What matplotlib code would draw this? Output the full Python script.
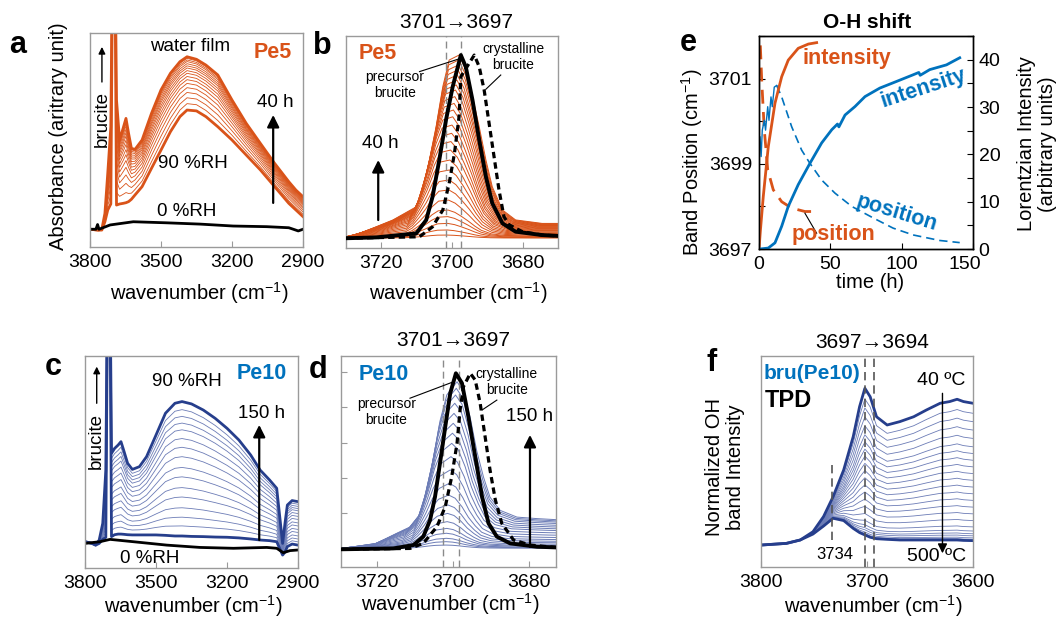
import numpy as np
import matplotlib
matplotlib.use("Agg")
import matplotlib.pyplot as plt
import matplotlib.transforms as mtrans

W, H = 1057, 621
ORANGE = "#D95319"
BLUE = "#0072BD"
NAVY = "#263E8C"
THIN = "#6C7CB6"
FRAME = "#9a9a9a"

plt.rcParams["font.family"] = ["Liberation Sans", "DejaVu Sans"]
plt.rcParams["mathtext.default"] = "regular"

# ---------------- panel a: Pe5 spectra, 0 -> 40 h ----------------
a_wn = [3800, 3765, 3750, 3737, 3725, 3712, 3703, 3696, 3688, 3675, 3660, 3648, 3637, 3625, 3610,
        3580, 3540, 3500, 3460, 3420, 3390, 3350, 3310, 3260, 3200, 3140, 3080, 3020, 2960, 2930, 2900]
a_first = [0.083, 0.079, 0.079, 0.118, 0.173, 0.201, 1.6, 1.6, 0.196, 0.201, 0.204, 0.207, 0.212, 0.223, 0.243,
           0.282, 0.368, 0.453, 0.539, 0.609, 0.640, 0.636, 0.609, 0.562, 0.500, 0.430, 0.360, 0.282, 0.204, 0.173, 0.142]
a_last = [0.083, 0.079, 0.083, 0.157, 0.344, 0.562, 1.6, 1.6, 0.687, 0.500, 0.555, 0.601, 0.531, 0.461, 0.456,
          0.500, 0.625, 0.734, 0.812, 0.866, 0.889, 0.877, 0.850, 0.804, 0.687, 0.578, 0.484, 0.391, 0.305, 0.266, 0.235]
a_steps = [0, 0.12, 0.23, 0.33, 0.42, 0.50, 0.57, 0.63, 0.69, 0.74, 0.79, 0.83, 0.87, 0.91, 0.94, 0.97, 1.0]
a_dry_wn = [3800, 3775, 3768, 3762, 3750, 3715, 3617, 3476, 3335, 3195, 3053, 2960, 2941, 2920, 2900]
a_dry = [0.083, 0.083, 0.105, 0.083, 0.088, 0.103, 0.118, 0.113, 0.107, 0.098, 0.095, 0.090, 0.083, 0.075, 0.083]

# ---------------- panel c: Pe10 spectra, 0 -> 150 h ----------------
c_wn = [3800, 3770, 3755, 3740, 3725, 3712, 3703, 3696, 3688, 3675, 3660, 3648, 3637, 3620, 3600, 3570, 3540,
        3500, 3460, 3420, 3390, 3350, 3300, 3250, 3200, 3150, 3100, 3060, 3020, 2990, 2965, 2955, 2945, 2925, 2900]
c_first = [0.124, 0.116, 0.108, 0.116, 0.135, 0.145, 1.6, 1.6, 0.148, 0.157, 0.160, 0.160, 0.159, 0.157, 0.156,
           0.156, 0.156, 0.156, 0.154, 0.151, 0.151, 0.149, 0.148, 0.146, 0.145, 0.142, 0.137, 0.132, 0.129,
           0.124, 0.061, 0.075, 0.101, 0.113, 0.108]
c_last = [0.124, 0.116, 0.108, 0.132, 0.211, 0.462, 1.6, 1.6, 0.541, 0.564, 0.580, 0.596, 0.557, 0.494, 0.465,
          0.478, 0.525, 0.627, 0.730, 0.777, 0.785, 0.774, 0.745, 0.706, 0.659, 0.604, 0.533, 0.462, 0.415,
          0.376, 0.116, 0.211, 0.297, 0.318, 0.313]
c_steps = [0, 0.075, 0.14, 0.21, 0.29, 0.36, 0.44, 0.51, 0.59, 0.66, 0.725, 0.79, 0.84, 0.89, 0.94, 1.0]
c_dry_wn = [3800, 3737, 3694, 3596, 3455, 3314, 3173, 3032, 2990, 2962, 2934, 2900]
c_dry = [0.116, 0.124, 0.135, 0.124, 0.108, 0.097, 0.093, 0.097, 0.093, 0.072, 0.082, 0.085]

# ---------------- panel b: Pe5 fitted OH band ----------------
b_base = 0.046
b_shape_off = [32, 28.1, 23.4, 18.7, 12.1, 10.3, 8.4, 6.5, 4.6, 2.8, 0, -1.9, -3.8, -5.7, -7.6, -9.4, -12.3, -16, -23.5, -32]
b_shape_rel = [0, 0.027, 0.063, 0.100, 0.172, 0.264, 0.427, 0.609, 0.828, 0.973, 1, 0.919, 0.773, 0.609, 0.427,
               0.281, 0.154, 0.100, 0.081, 0.081]
b_peak = [0.061, 0.085, 0.116, 0.148, 0.179, 0.226, 0.274, 0.321, 0.368, 0.415, 0.462, 0.502, 0.541, 0.580,
          0.619, 0.651, 0.682, 0.714, 0.745, 0.769, 0.792, 0.816, 0.840, 0.863, 0.887, 0.910]
b_center = [3701.3, 3701.3, 3701.2, 3701.2, 3701.1, 3701.0, 3700.9, 3700.8, 3700.7, 3700.6, 3700.4, 3700.3,
            3700.1, 3700.0, 3699.8, 3699.6, 3699.4, 3699.2, 3699.0, 3698.8, 3698.6, 3698.5, 3698.3, 3698.2,
            3698.1, 3698.0]
b_pre_wn = [3730, 3721.4, 3710.1, 3707.3, 3705.5, 3703.6, 3701.7, 3699.8, 3697.5, 3696.1, 3694.2, 3692.3,
            3690.4, 3688.6, 3685.7, 3682.0, 3674.5, 3670]
b_pre = [0.046, 0.050, 0.069, 0.132, 0.242, 0.415, 0.604, 0.761, 0.910, 0.855, 0.698, 0.509, 0.336, 0.211,
         0.116, 0.077, 0.061, 0.057]
b_cry_wn = [3730, 3709.2, 3705.5, 3702.6, 3700.8, 3699.3, 3698.0, 3697.5, 3693.7, 3692.3, 3690.9, 3689.5,
            3688.1, 3686.7, 3685.3, 3683.9, 3680.1, 3674.5, 3670]
b_cry = [0.046, 0.053, 0.100, 0.179, 0.305, 0.447, 0.619, 0.808, 0.910, 0.855, 0.745, 0.588, 0.431, 0.274,
         0.148, 0.110, 0.077, 0.061, 0.057]

# ---------------- panel d: Pe10 fitted OH band ----------------
d_base = 0.086
d_shape_off = [32, 28.2, 21.2, 15.9, 12.4, 9.7, 8.0, 6.2, 4.5, 2.7, 0, -1.7, -3.5, -5.2, -7.0, -8.7, -11.4, -15.8, -21.1, -25.9, -32]
d_shape_rel = [0, 0.009, 0.033, 0.093, 0.131, 0.210, 0.349, 0.546, 0.764, 0.921, 1, 0.941, 0.783, 0.586, 0.428,
               0.309, 0.230, 0.190, 0.181, 0.175, 0.170]
d_peak = [0.104, 0.120, 0.136, 0.160, 0.183, 0.215, 0.254, 0.294, 0.341, 0.397, 0.460, 0.523, 0.586, 0.634,
          0.681, 0.728, 0.776, 0.815, 0.847, 0.878]
d_center = [3701.8, 3701.8, 3701.7, 3701.7, 3701.6, 3701.5, 3701.4, 3701.3, 3701.1, 3700.9, 3700.7, 3700.5,
            3700.3, 3700.1, 3699.9, 3699.7, 3699.5, 3699.3, 3699.1, 3698.9]
d_pre_wn = [3729.3, 3715.7, 3710.4, 3707.8, 3706.0, 3704.7, 3703.4, 3702.0, 3700.7, 3699.2, 3697.6, 3695.9,
            3694.1, 3692.3, 3690.6, 3688.4, 3684.9, 3677.8, 3673]
d_pre = [0.084, 0.088, 0.104, 0.144, 0.223, 0.333, 0.491, 0.665, 0.823, 0.918, 0.871, 0.712, 0.523, 0.333,
         0.207, 0.144, 0.112, 0.096, 0.093]
d_cry_wn = [3729.3, 3711.3, 3707.8, 3704.2, 3702.0, 3700.3, 3698.9, 3698.1, 3697.2, 3695.4, 3694.1, 3692.8,
            3691.5, 3690.2, 3688.8, 3687.1, 3684.0, 3679.6, 3673]
d_cry = [0.084, 0.088, 0.112, 0.191, 0.286, 0.428, 0.586, 0.744, 0.855, 0.918, 0.886, 0.776, 0.618, 0.460,
         0.318, 0.207, 0.128, 0.104, 0.093]

# ---------------- panel e: band position / intensity vs time ----------------
e_or_int_t = [0, 1, 3, 6.5, 11.2, 15.9, 20.5, 27.5, 34.6, 40.4]
e_or_int = [0, 4, 11.1, 21.6, 30.8, 36.4, 39.9, 42.4, 43.3, 43.6]
e_or_pos_t = [0, 0.7, 1.9, 3.7, 6.1, 10, 15.9, 22.9, 32.2, 40.4]
e_or_pos = [3702.3, 3701.97, 3700.96, 3699.8, 3698.86, 3698.39, 3698.11, 3697.96, 3697.88, 3697.88]
e_bl_pos0_t = [0.7, 1.5, 2.3, 3.7, 4.6, 6.1, 7.0, 8.4, 9.3, 10.7, 12.4]
e_bl_pos0 = [3699.63, 3699.17, 3699.79, 3700.02, 3699.79, 3700.34, 3700.02, 3700.57, 3700.34, 3700.80, 3700.84]
e_bl_pos_t = [12.4, 15.9, 22.9, 29.9, 35.7, 43.9, 53.3, 65, 80, 94, 108, 126.7, 140.7]
e_bl_pos = [3700.84, 3700.57, 3699.87, 3699.32, 3699.01, 3698.62, 3698.31, 3698.0, 3697.73, 3697.49,
            3697.33, 3697.20, 3697.15]
e_bl_int_t = [0.7, 6.5, 11.2, 15.9, 20.5, 27.5, 35.7, 43.9, 51.0, 55, 56, 60.3, 67.3, 74.3, 84.7, 96.4,
              108, 112, 113, 119.7, 131.4, 140.7]
e_bl_int = [0, 0.2, 1.3, 4.8, 9.0, 13.6, 18.1, 22.4, 25.2, 26.4, 25.8, 28.3, 30.1, 32.2, 34.0, 35.4,
            36.8, 37.3, 36.7, 37.9, 38.9, 40.4]

# ---------------- panel f: TPD of Pe10 brucite ----------------
f_wn = [3800, 3776, 3763, 3751, 3741, 3732, 3722, 3713, 3707, 3702, 3697, 3691, 3681, 3669, 3656, 3644,
        3631, 3622, 3615, 3609, 3600]
f_40C = [0.104, 0.112, 0.128, 0.167, 0.239, 0.333, 0.460, 0.618, 0.760, 0.847, 0.807, 0.712, 0.673, 0.689,
         0.712, 0.744, 0.776, 0.784, 0.795, 0.784, 0.776]
f_500C = [0.104, 0.112, 0.128, 0.156, 0.194, 0.231, 0.220, 0.183, 0.163, 0.152, 0.141, 0.134, 0.131, 0.128,
          0.128, 0.128, 0.128, 0.128, 0.128, 0.126, 0.125]
f_steps = [0, 0.01, 0.02, 0.035, 0.05, 0.07, 0.1, 0.146, 0.195, 0.244, 0.293, 0.341, 0.39, 0.439, 0.488,
           0.537, 0.585, 0.634, 0.683, 0.744, 0.805, 0.866, 0.927, 1.0]


def box(x0, y0, x1, y1):
    return [x0 / W, 1 - y1 / H, (x1 - x0) / W, (y1 - y0) / H]


def ftext(x, y, s, **kw):
    kw.setdefault("ha", "center")
    kw.setdefault("va", "center")
    fig.text(x / W, 1 - y / H, s, **kw)


def style(ax, color=FRAME, pad=5):
    for sp in ax.spines.values():
        sp.set_color(color)
        sp.set_linewidth(1)
    ax.tick_params(direction="in", length=4, width=0.8, color=color, labelsize=14, pad=pad)


def up_arrow(ax, x, y0, y1, lw=1.6, ms=18):
    ax.annotate("", xy=(x, y1), xytext=(x, y0), xycoords="axes fraction",
                arrowprops=dict(arrowstyle="-|>", color="k", lw=lw, mutation_scale=ms,
                                shrinkA=0, shrinkB=0))


def family(ax, wn, first, last, steps, thick, thin):
    first = np.array(first)
    last = np.array(last)
    for s in steps[1:-1]:
        ax.plot(wn, first + s * (last - first), color=thin, lw=0.6)
    ax.plot(wn, first, color=thick, lw=2)
    ax.plot(wn, last, color=thick, lw=2)


def bands(ax, centers, peaks, base, off, rel, color, lw):
    off = np.array(off)
    rel = np.array(rel)
    for c, p in zip(centers, peaks):
        ax.plot(c + off, base + (p - base) * rel, color=color, lw=lw)


fig = plt.figure(figsize=(W / 100, H / 100), dpi=100)
WN = "wavenumber (cm$^{-1}$)"

# ---- a ----
ax = fig.add_axes(box(90, 33, 303, 247))
family(ax, a_wn, a_first, a_last, a_steps, ORANGE, ORANGE)
ax.plot(a_dry_wn, a_dry, color="k", lw=2)
ax.set_xlim(3800, 2900)
ax.set_ylim(0, 1)
ax.set_xticks([3800, 3500, 3200, 2900])
ax.set_yticks([])
style(ax)
ax.text(0.469, 0.936, "water film", transform=ax.transAxes, ha="center", va="center", fontsize=13.5)
ax.text(0.859, 0.907, "Pe5", transform=ax.transAxes, ha="center", va="center", fontsize=15.5,
        fontweight="bold", color=ORANGE)
ax.text(0.869, 0.673, "40 h", transform=ax.transAxes, ha="center", va="center", fontsize=13.5)
up_arrow(ax, 0.86, 0.206, 0.617)
ax.text(0.484, 0.391, "90 %RH", transform=ax.transAxes, ha="center", va="center", fontsize=13.5)
ax.text(0.455, 0.165, "0 %RH", transform=ax.transAxes, ha="center", va="center", fontsize=13.5)
ax.text(0.056, 0.60, "brucite", transform=ax.transAxes, ha="center", va="center", fontsize=13.5, rotation=90)
up_arrow(ax, 0.056, 0.771, 0.935, lw=1, ms=10)
ftext(199, 293, WN, fontsize=14.5)
ftext(58, 136, "Absorbance (aritrary unit)", fontsize=14.5, rotation=90)
ftext(18, 45, "a", fontsize=22, fontweight="bold")

# ---- b ----
ax = fig.add_axes(box(346, 36, 558, 248))
bands(ax, b_center, b_peak, b_base, b_shape_off, b_shape_rel, ORANGE, 0.7)
for x in (3701.7, 3697.5):
    ax.axvline(x, color="#8a8a8a", lw=1, dashes=(5, 3), zorder=3)
ax.plot(b_cry_wn, b_cry, color="k", lw=2.3, dashes=(2, 1.3), zorder=4)
ax.plot(b_pre_wn, b_pre, color="k", lw=2.8, zorder=5)
ax.plot([3709.2, 3698.4], [0.832, 0.890], color="k", lw=0.8, zorder=6)
ax.plot([3686.2, 3690.4], [0.816, 0.749], color="k", lw=0.8, zorder=6)
ax.set_xlim(3730, 3670)
ax.set_ylim(0, 1)
ax.set_xticks([3720, 3700, 3680])
ax.set_yticks([])
style(ax)
ax.text(0.152, 0.918, "Pe5", transform=ax.transAxes, ha="center", va="center", fontsize=15.5,
        fontweight="bold", color=ORANGE)
ax.text(0.231, 0.769, "precursor\nbrucite", transform=ax.transAxes, ha="center", va="center",
        fontsize=10, linespacing=1.2)
ax.text(0.789, 0.902, "crystalline\nbrucite", transform=ax.transAxes, ha="center", va="center",
        fontsize=10, linespacing=1.2)
ax.text(0.160, 0.494, "40 h", transform=ax.transAxes, ha="center", va="center", fontsize=13.5)
up_arrow(ax, 0.152, 0.132, 0.415)
ftext(458, 293, WN, fontsize=14.5)
ftext(456, 22, "3701\u21923697", fontsize=15)
ftext(322, 46, "b", fontsize=22, fontweight="bold")

# ---- c ----
ax = fig.add_axes(box(85, 356, 298, 568))
family(ax, c_wn, c_first, c_last, c_steps, NAVY, THIN)
ax.plot(c_dry_wn, c_dry, color="k", lw=2)
ax.set_xlim(3800, 2900)
ax.set_ylim(0, 1)
ax.set_xticks([3800, 3500, 3200, 2900])
ax.set_yticks([])
style(ax)
ax.text(0.829, 0.918, "Pe10", transform=ax.transAxes, ha="center", va="center", fontsize=15.5,
        fontweight="bold", color=BLUE)
ax.text(0.477, 0.879, "90 %RH", transform=ax.transAxes, ha="center", va="center", fontsize=13.5)
ax.text(0.829, 0.730, "150 h", transform=ax.transAxes, ha="center", va="center", fontsize=13.5)
up_arrow(ax, 0.818, 0.132, 0.675)
ax.text(0.305, 0.046, "0 %RH", transform=ax.transAxes, ha="center", va="center", fontsize=13.5)
ax.text(0.055, 0.60, "brucite", transform=ax.transAxes, ha="center", va="center", fontsize=13.5, rotation=90)
up_arrow(ax, 0.055, 0.777, 0.95, lw=1, ms=10)
ftext(193, 606, WN, fontsize=14.5)
ftext(53, 367, "c", fontsize=22, fontweight="bold")

# ---- d ----
ax = fig.add_axes(box(341, 356, 556, 567))
bands(ax, d_center, d_peak, d_base, d_shape_off, d_shape_rel, THIN, 0.7)
for x in (3702.5, 3698.5):
    ax.axvline(x, color="#8a8a8a", lw=1, dashes=(5, 3), zorder=3)
ax.plot(d_cry_wn, d_cry, color="k", lw=2.3, dashes=(2, 1.3), zorder=4)
ax.plot(d_pre_wn, d_pre, color="k", lw=2.8, zorder=5)
ax.plot([3711.3, 3699.8], [0.800, 0.878], color="k", lw=0.8, zorder=6)
ax.plot([3688.4, 3692.3], [0.791, 0.744], color="k", lw=0.8, zorder=6)
ax.set_xlim(3729.5, 3672.8)
ax.set_ylim(0, 1)
ax.set_xticks([3720, 3700, 3680])
ax.set_yticks([0.254, 0.42, 0.59, 0.76, 0.926])
ax.set_yticklabels([])
style(ax)
ax.text(0.197, 0.91, "Pe10", transform=ax.transAxes, ha="center", va="center", fontsize=15.5,
        fontweight="bold", color=BLUE)
ax.text(0.212, 0.736, "precursor\nbrucite", transform=ax.transAxes, ha="center", va="center",
        fontsize=10, linespacing=1.2)
ax.text(0.771, 0.878, "crystalline\nbrucite", transform=ax.transAxes, ha="center", va="center",
        fontsize=10, linespacing=1.2)
ax.text(0.879, 0.712, "150 h", transform=ax.transAxes, ha="center", va="center", fontsize=13.5)
up_arrow(ax, 0.879, 0.096, 0.626)
ftext(450, 604, WN, fontsize=14.5)
ftext(453, 340, "3701\u21923697", fontsize=15)
ftext(318, 370, "d", fontsize=22, fontweight="bold")

# ---- e ----
ax = fig.add_axes(box(759, 36, 973, 249))
ax2 = ax.twinx()
ax.plot(e_or_pos_t, e_or_pos, color=ORANGE, lw=2, dashes=(5, 3))
ax.plot(e_bl_pos0_t, e_bl_pos0, color=BLUE, lw=1)
ax.plot(e_bl_pos_t, e_bl_pos, color=BLUE, lw=1.2, dashes=(5, 3))
ax.plot([32.2, 40.4], [3697.84, 3697.37], color="k", lw=0.8)
ax2.plot(e_or_int_t, e_or_int, color=ORANGE, lw=2)
ax2.plot(e_bl_int_t, e_bl_int, color=BLUE, lw=2)
ax.set_xlim(0, 150)
ax.set_ylim(3697, 3702)
ax2.set_ylim(0, 45)
ax.set_xticks([0, 50, 100, 150])
ax.set_yticks([3697, 3698, 3699, 3700, 3701, 3702])
ax.set_yticklabels(["3697", "", "3699", "", "3701", ""])
ax2.set_yticks([0, 5, 10, 15, 20, 25, 30, 35, 40, 45])
ax2.set_yticklabels(["0", "", "10", "", "20", "", "30", "", "40", ""])
for a_ in (ax, ax2):
    for sp in a_.spines.values():
        sp.set_color("k")
        sp.set_linewidth(1)
ax.tick_params(direction="in", length=4, width=0.8, labelsize=14, pad=5)
ax.tick_params(axis="x", pad=5)
ax2.tick_params(direction="in", length=4, width=0.8, labelsize=14, pad=4)
last = ax.get_xticklabels()[-1]
last.set_transform(last.get_transform() + mtrans.ScaledTranslation(-6 / 72, 0, fig.dpi_scale_trans))
ax2.text(61.5, 40.3, "intensity", ha="center", va="center", fontsize=15.5, fontweight="bold", color=ORANGE)
ax2.text(115.2, 34.0, "intensity", ha="center", va="center", fontsize=15.5, fontweight="bold",
         color=BLUE, rotation=18)
ax.text(96.5, 3697.84, "position", ha="center", va="center", fontsize=15.5, fontweight="bold",
        color=BLUE, rotation=-17)
ax.text(52.1, 3697.33, "position", ha="center", va="center", fontsize=15.5, fontweight="bold", color=ORANGE)
ftext(867, 22, "O-H shift", fontsize=15, fontweight="bold")
ftext(870, 282, "time (h)", fontsize=14.5)
ftext(692, 162, "Band Position (cm$^{-1}$)", fontsize=14.5, rotation=90)
ftext(1037, 144, "Lorentzian Intensity\n(arbitrary units)", fontsize=14.5, rotation=90,
      multialignment="center", linespacing=1.1)
ftext(688, 43, "e", fontsize=22, fontweight="bold")

# ---- f ----
ax = fig.add_axes(box(761, 356, 973, 567))
family(ax, f_wn, f_500C, f_40C, f_steps, NAVY, THIN)
for x in (3702, 3693):
    ax.axvline(x, color="#555555", lw=1.2, dashes=(5, 3), zorder=3)
ax.plot([3733, 3733], [0.13, 0.5], color="#555555", lw=1.2, dashes=(5, 3), zorder=3)
ax.set_xlim(3800, 3600)
ax.set_ylim(0, 1)
ax.set_xticks([3800, 3700, 3600])
ax.set_yticks([])
style(ax)
ax.text(0.239, 0.918, "bru(Pe10)", transform=ax.transAxes, ha="center", va="center", fontsize=15,
        fontweight="bold", color=BLUE)
ax.text(0.129, 0.791, "TPD", transform=ax.transAxes, ha="center", va="center", fontsize=17,
        fontweight="bold")
ax.text(0.852, 0.886, "40 \u00baC", transform=ax.transAxes, ha="center", va="center", fontsize=14)
ax.text(0.829, 0.049, "500 \u00baC", transform=ax.transAxes, ha="center", va="center", fontsize=14)
ax.annotate("", xy=(0.856, 0.065), xytext=(0.856, 0.823), xycoords="axes fraction",
            arrowprops=dict(arrowstyle="-|>", color="k", lw=1, mutation_scale=14, shrinkA=0, shrinkB=0))
ax.text(0.349, 0.057, "3734", transform=ax.transAxes, ha="center", va="center", fontsize=12)
ftext(873, 606, WN, fontsize=14.5)
ftext(872, 342, "3697\u21923694", fontsize=15)
ftext(725, 467, "Normalized OH\nband Intensity", fontsize=14.5, rotation=90, multialignment="center",
      linespacing=1.1)
ftext(712, 363, "f", fontsize=22, fontweight="bold")

fig.savefig("out.png", dpi=100)
